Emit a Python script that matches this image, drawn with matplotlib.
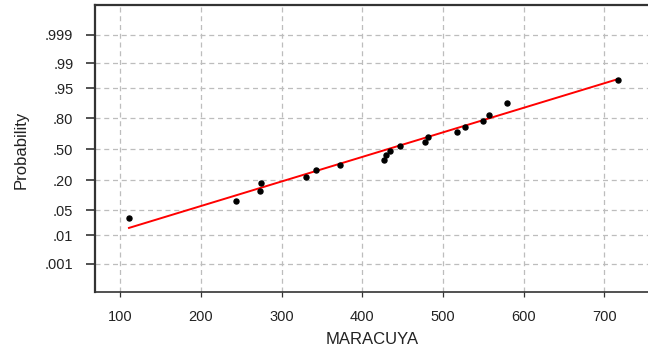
import numpy as np
import matplotlib
matplotlib.use("Agg")
import matplotlib.pyplot as plt
from statistics import NormalDist

# Data (MARACUYA values vs. cumulative probability)
maracuya = [111, 244, 273, 275, 330, 343, 372, 427, 430, 434,
            447, 478, 481, 517, 527, 550, 557, 579, 717]
probability = [0.031, 0.080, 0.130, 0.180, 0.229, 0.284, 0.334, 0.382, 0.440, 0.480,
               0.532, 0.575, 0.626, 0.681, 0.726, 0.776, 0.826, 0.896, 0.970]

# Fitted normal line (mean, std)
fit_mean = 431.0
fit_sd = 150.6
fit_x = [111, 717]

prob_ticks = [0.001, 0.01, 0.05, 0.20, 0.50, 0.80, 0.95, 0.99, 0.999]
prob_labels = [".001", ".01", ".05", ".20", ".50", ".80", ".95", ".99", ".999"]
x_ticks = [100, 200, 300, 400, 500, 600, 700]

nd = NormalDist()
z = [nd.inv_cdf(p) for p in probability]
z_ticks = [nd.inv_cdf(p) for p in prob_ticks]
fx = np.array(fit_x, dtype=float)
fz = (fx - fit_mean) / fit_sd

plt.rcParams['font.family'] = ['Liberation Sans', 'DejaVu Sans']

fig = plt.figure(figsize=(6.48, 3.52), dpi=100)
ax = fig.add_axes([95/648, (352-292.3)/352, (648-95)/648 + 0.01, (292.3-5)/352])

ax.plot(fx, fz, color='#ff0000', lw=1.4, zorder=3)
ax.plot(maracuya, z, 'o', color='black', ms=3.6, zorder=4)

ax.set_xlim(68.9, 762)
ax.set_ylim(-3.865, 3.9)
ax.set_xticks(x_ticks)
ax.set_xticklabels([str(t) for t in x_ticks])
ax.set_yticks(z_ticks)
ax.set_yticklabels(prob_labels)

ax.grid(True, color='#bdbdbd', linestyle=(0, (4, 3)), linewidth=0.9)
ax.set_axisbelow(True)

for s in ['left', 'top', 'bottom']:
    ax.spines[s].set_color('#333333')
ax.spines['left'].set_linewidth(1.6)
ax.spines['top'].set_linewidth(1.6)
ax.spines['bottom'].set_linewidth(1.2)
ax.spines['right'].set_visible(False)

ax.tick_params(axis='y', direction='out', length=6.5, width=1.2, pad=9,
               labelsize=10.5, color='#333333', labelcolor='#222222')
ax.tick_params(axis='x', direction='out', length=3.5, width=0.9, pad=9,
               labelsize=10.5, color='#333333', labelcolor='#222222')

fig.text(21.5/648, 1 - 149.5/352, "Probability", rotation=90, ha='center', va='center',
         fontsize=12, color='#222222')
fig.text(372/648, 1 - 340/352, "MARACUYA", ha='center', va='center',
         fontsize=12, color='#222222')

fig.savefig("out.png", dpi=100)
